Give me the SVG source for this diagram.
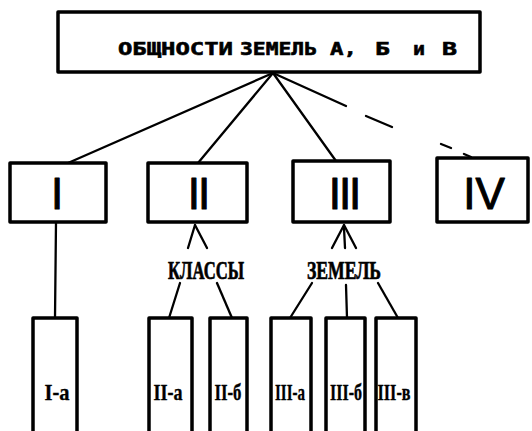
<svg xmlns="http://www.w3.org/2000/svg" width="532" height="431" viewBox="0 0 532 431">
  <style>
    .box { fill: #fff; stroke: #000; stroke-width: 3.5; stroke-linejoin: round; }
    .link { fill: none; stroke: #000; stroke-width: 2.3; stroke-linecap: round; }
    .title { font-family: "DejaVu Sans Mono", "Liberation Mono", monospace; font-weight: bold; font-size: 18px; fill: #000; stroke: #000; stroke-width: 0.6; }
    .num { font-family: "Liberation Sans", "DejaVu Sans", sans-serif; font-size: 44px; fill: #000; stroke: #000; stroke-width: 1; stroke-linejoin: round; text-anchor: middle; }
    .lbl { font-family: "Liberation Serif", "DejaVu Serif", serif; font-weight: bold; font-size: 25px; fill: #000; stroke: #000; stroke-width: 0.7; text-anchor: middle; }
    .sub { font-family: "Liberation Serif", "DejaVu Serif", serif; font-weight: bold; font-size: 24px; fill: #000; stroke: #000; stroke-width: 0.4; text-anchor: middle; }
  </style>

  <g id="connectors">
    <!-- from the root box to the four groups -->
    <line class="link" x1="273" y1="73" x2="68" y2="163"/>
    <line class="link" x1="273" y1="73" x2="198" y2="163"/>
    <line class="link" x1="273" y1="73" x2="336" y2="161"/>
    <line class="link" x1="273" y1="73" x2="346" y2="106"/>
    <line class="link" x1="366" y1="116" x2="392" y2="127"/>
    <line class="link" x1="441" y1="144" x2="451" y2="148"/>
    <line class="link" x1="464" y1="154" x2="471" y2="157"/>
    <!-- group I to its class -->
    <line class="link" x1="56" y1="222" x2="55" y2="318"/>
    <!-- group II to the label -->
    <line class="link" x1="195" y1="225" x2="188" y2="248"/>
    <line class="link" x1="195" y1="225" x2="207" y2="248"/>
    <!-- group III to the label -->
    <line class="link" x1="344" y1="225" x2="332" y2="248"/>
    <line class="link" x1="344" y1="228" x2="345" y2="248"/>
    <line class="link" x1="344" y1="225" x2="356" y2="248"/>
    <!-- labels to the classes -->
    <line class="link" x1="180" y1="283" x2="169" y2="318"/>
    <line class="link" x1="217" y1="283" x2="232" y2="318"/>
    <line class="link" x1="312" y1="283" x2="290" y2="318"/>
    <line class="link" x1="346" y1="285" x2="347" y2="318"/>
    <line class="link" x1="378" y1="283" x2="398" y2="318"/>
  </g>

  <g id="root">
    <rect class="box" x="58" y="12" width="422" height="60"/>
    <text class="title" x="118" y="55" textLength="115" lengthAdjust="spacingAndGlyphs">ОБЩНОСТИ</text>
    <text class="title" x="240" y="55" textLength="77" lengthAdjust="spacingAndGlyphs">ЗЕМЕЛЬ</text>
    <text class="title" x="330" y="55" textLength="27" lengthAdjust="spacingAndGlyphs">А,</text>
    <text class="title" x="375" y="55" textLength="15" lengthAdjust="spacingAndGlyphs">Б</text>
    <text class="title" x="413" y="55" textLength="12" lengthAdjust="spacingAndGlyphs">и</text>
    <text class="title" x="442" y="55" textLength="15" lengthAdjust="spacingAndGlyphs">В</text>
  </g>

  <g id="group-1">
    <rect class="box" x="10" y="163" width="96" height="59"/>
    <text class="num" x="57" y="209">I</text>
  </g>
  <g id="group-2">
    <rect class="box" x="148" y="163" width="99" height="59"/>
    <text class="num" x="198" y="209" letter-spacing="-2">II</text>
  </g>
  <g id="group-3">
    <rect class="box" x="293" y="161" width="97" height="61"/>
    <text class="num" x="344" y="209" letter-spacing="-2">III</text>
  </g>
  <g id="group-4">
    <rect class="box" x="437" y="158" width="91" height="64"/>
    <text class="num" x="484" y="209">IV</text>
  </g>

  <g id="label-classes">
    <text class="lbl" x="206" y="279" textLength="76" lengthAdjust="spacingAndGlyphs">КЛАССЫ</text>
  </g>
  <g id="label-lands">
    <text class="lbl" x="344" y="279" textLength="74" lengthAdjust="spacingAndGlyphs">ЗЕМЕЛЬ</text>
  </g>

  <g id="class-1a">
    <rect class="box" x="33" y="318" width="44" height="130"/>
    <text class="sub" x="57" y="400" textLength="25" lengthAdjust="spacingAndGlyphs">I-а</text>
  </g>
  <g id="class-2a">
    <rect class="box" x="149" y="318" width="43" height="130"/>
    <text class="sub" x="168" y="400" textLength="29" lengthAdjust="spacingAndGlyphs">II-а</text>
  </g>
  <g id="class-2b">
    <rect class="box" x="210" y="318" width="37" height="130"/>
    <text class="sub" x="228" y="400" textLength="27" lengthAdjust="spacingAndGlyphs">II-б</text>
  </g>
  <g id="class-3a">
    <rect class="box" x="271" y="318" width="40" height="130"/>
    <text class="sub" x="290" y="400" textLength="30" lengthAdjust="spacingAndGlyphs">III-а</text>
  </g>
  <g id="class-3b">
    <rect class="box" x="326" y="318" width="39" height="130"/>
    <text class="sub" x="346" y="400" textLength="32" lengthAdjust="spacingAndGlyphs">III-б</text>
  </g>
  <g id="class-3c">
    <rect class="box" x="376" y="318" width="40" height="130"/>
    <text class="sub" x="394" y="400" textLength="33" lengthAdjust="spacingAndGlyphs">III-в</text>
  </g>
</svg>
